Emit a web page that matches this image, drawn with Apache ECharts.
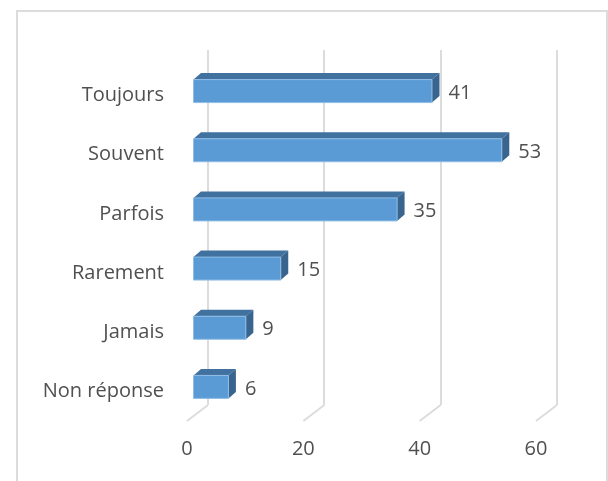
<!DOCTYPE html>
<html>
<head>
<meta charset="utf-8">
<style>
html, body { margin: 0; padding: 0; background: #fff; }
#chart { width: 608px; height: 481px; }
</style>
<script src="https://cdn.jsdelivr.net/npm/echarts@6/dist/echarts.min.js"></script>
</head>
<body>
<div id="chart"></div>
<script>
var categories = ['Toujours', 'Souvent', 'Parfois', 'Rarement', 'Jamais', 'Non réponse'];
var values = [41, 53, 35, 15, 9, 6];
var xTicks = [0, 20, 40, 60];

var fontName = '"Open Sans"';
var textColor = '#505050';
var lineColor = '#dcdcdc';

var myChart = echarts.init(document.getElementById('chart'));

// the 3D look: front plane is grid 1, back wall is grid 0
function renderBar(params, api) {
    var p = api.coord([api.value(0), api.value(1)]);
    var zero = api.coord([0, api.value(1)]);
    var x0 = zero[0] + 6.5, x1 = p[0] + 6.5;
    var yc = p[1] - 4.5;
    var top = yc - 11.5, bottom = yc + 11.5;
    var dx = 7.5, dy = 6.5;
    return {
        type: 'group',
        children: [
            {
                type: 'polygon',
                shape: { points: [[x0, top], [x0 + dx, top - dy], [x1 + dx, top - dy], [x1, top]] },
                style: { fill: '#41719f' }
            },
            {
                type: 'polygon',
                shape: { points: [[x1, top], [x1 + dx, top - dy], [x1 + dx, bottom - dy], [x1, bottom]] },
                style: { fill: '#38648e' }
            },
            {
                type: 'rect',
                shape: { x: x0, y: top, width: x1 - x0, height: bottom - top },
                style: { fill: '#5b9bd5', stroke: '#8fbde6', lineWidth: 1 }
            },
            {
                type: 'text',
                style: {
                    x: x1 + dx + 9,
                    y: yc + 2,
                    text: String(api.value(0)),
                    fill: textColor,
                    font: '20px ' + fontName,
                    textAlign: 'left',
                    textVerticalAlign: 'middle'
                }
            }
        ]
    };
}

function renderFloor(params, api) {
    var x = api.coord([api.value(0), 0])[0];
    var y = params.coordSys.y + params.coordSys.height;
    return {
        type: 'line',
        shape: { x1: x, y1: y, x2: x + 21, y2: y - 16 },
        style: { stroke: lineColor, lineWidth: 2 }
    };
}

myChart.setOption({
    animation: false,
    backgroundColor: '#fff',
    textStyle: { fontFamily: fontName },
    graphic: [{
        type: 'rect',
        silent: true,
        shape: { x: 17, y: 11, width: 590, height: 480 },
        style: { fill: 'none', stroke: lineColor, lineWidth: 2 }
    }],
    grid: [
        { left: 208, top: 50, width: 348.5, height: 355 },
        { left: 187, top: 66, width: 349, height: 355 }
    ],
    xAxis: [
        {
            gridIndex: 0, type: 'value', min: 0, max: 60, interval: 20,
            axisLine: { show: false }, axisTick: { show: false }, axisLabel: { show: false },
            splitLine: { show: true, lineStyle: { color: lineColor, width: 2 } }
        },
        {
            gridIndex: 1, type: 'value', min: 0, max: 60, interval: 20,
            axisLine: { show: false }, axisTick: { show: false },
            axisLabel: { color: textColor, fontSize: 20, fontFamily: 'Open Sans', margin: 18 },
            splitLine: { show: false }
        }
    ],
    yAxis: [
        {
            gridIndex: 0, type: 'category', data: categories, inverse: true,
            axisLine: { show: false }, axisTick: { show: false }, axisLabel: { show: false }
        },
        {
            gridIndex: 1, type: 'category', data: categories, inverse: true,
            axisLine: { show: false }, axisTick: { show: false },
            axisLabel: { color: textColor, fontSize: 20, fontFamily: 'Open Sans', margin: 23, padding: [2, 0, 0, 0] }
        }
    ],
    series: [
        {
            type: 'custom',
            xAxisIndex: 1, yAxisIndex: 1,
            clip: false, z: 1,
            renderItem: renderFloor,
            encode: { x: 0 },
            data: xTicks.map(function (t) { return [t]; })
        },
        {
            type: 'custom',
            xAxisIndex: 1, yAxisIndex: 1,
            clip: false, z: 3,
            renderItem: renderBar,
            encode: { x: 0, y: 1 },
            data: values.map(function (v, i) { return [v, i]; })
        }
    ]
});
</script>
</body>
</html>
